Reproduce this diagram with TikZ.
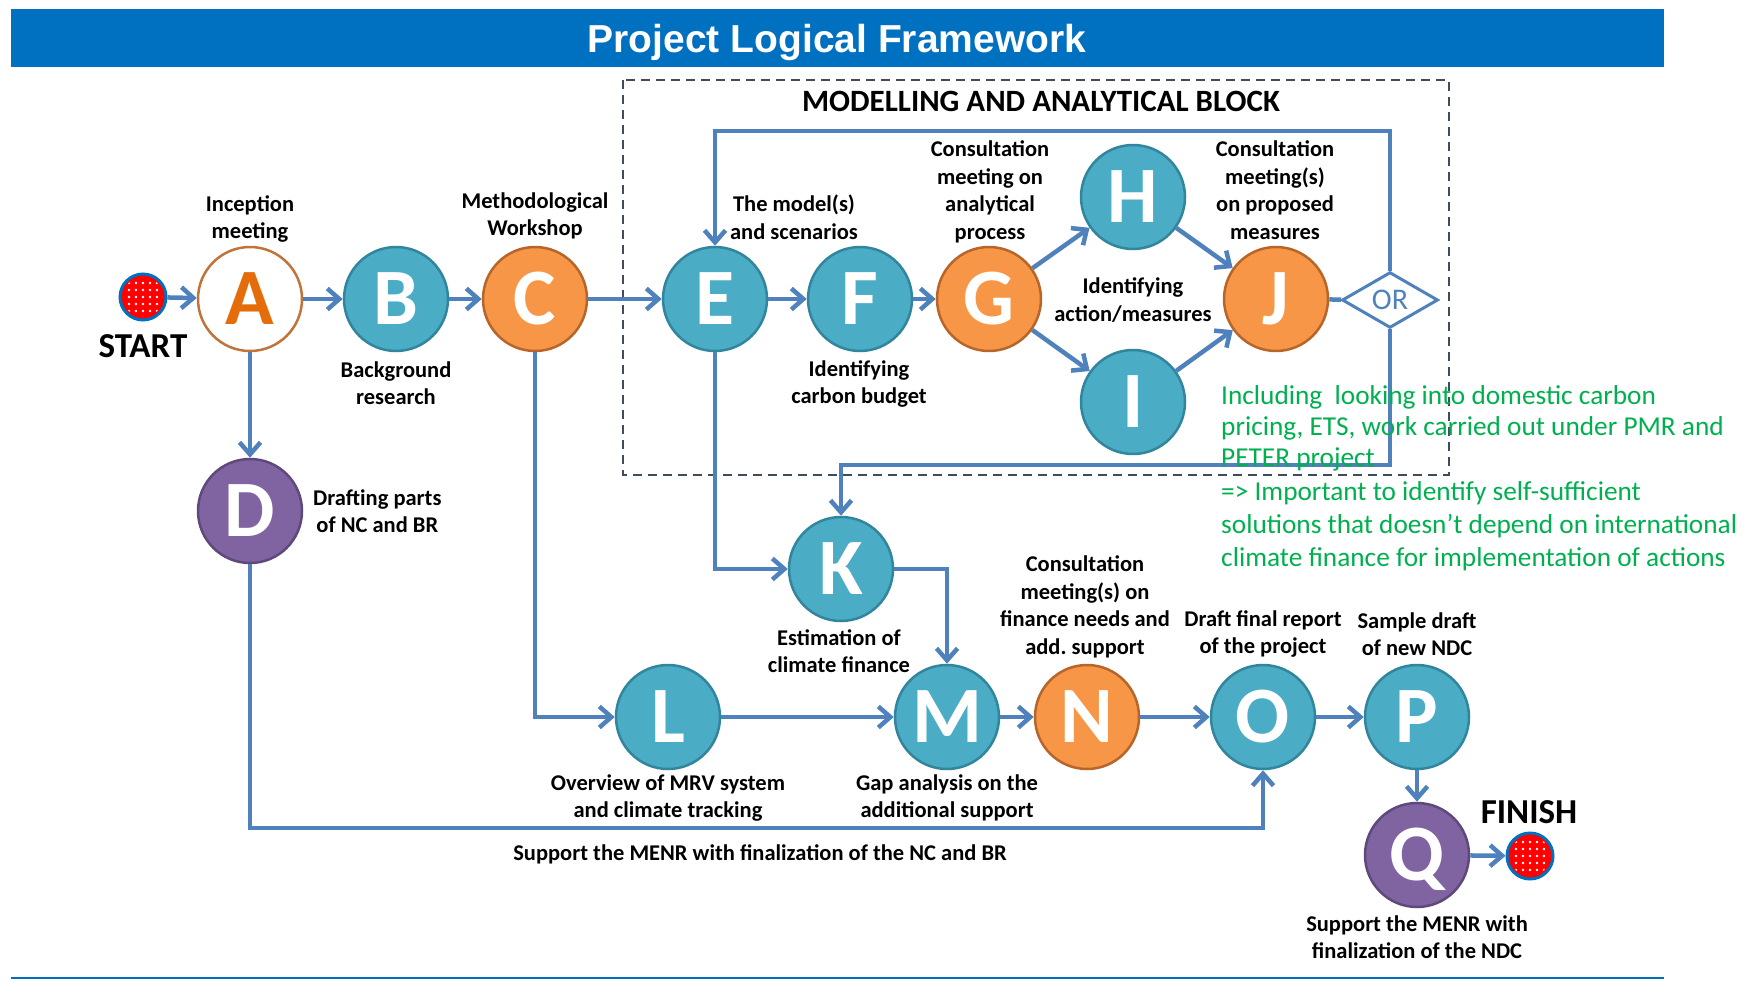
\documentclass[tikz,border=0pt]{standalone}
\usepackage{fontspec}
\setmainfont{Carlito}
\newfontfamily\titlefont{Liberation Sans}
\usetikzlibrary{arrows.meta,shapes.geometric}
\definecolor{barblue}{HTML}{0070C0}
\definecolor{tealfill}{HTML}{4BACC6}
\definecolor{tealedge}{HTML}{31859C}
\definecolor{orangefill}{HTML}{F79646}
\definecolor{orangeedge}{HTML}{B8652A}
\definecolor{purplefill}{HTML}{8064A2}
\definecolor{purpleedge}{HTML}{5F497A}
\definecolor{linkblue}{HTML}{4F81BD}
\definecolor{boxgray}{HTML}{3E4C5E}
\definecolor{notegreen}{HTML}{00B050}
\definecolor{aletter}{HTML}{E46C0A}
\definecolor{aedge}{HTML}{C0743A}
\definecolor{dotred}{HTML}{FF0000}
\tikzset{
  stage/.style={circle, minimum size=104pt, inner sep=0pt, line width=2.5pt,
    font=\fontsize{80}{80}\selectfont\bfseries, text=white, text height=50pt, text depth=0pt},
  tealstage/.style={stage, fill=tealfill, draw=tealedge},
  orangestage/.style={stage, fill=orangefill, draw=orangeedge},
  purplestage/.style={stage, fill=purplefill, draw=purpleedge},
  lbl/.style={font=\fontsize{22.5}{27.5}\selectfont\bfseries, align=center, inner sep=0pt},
  flow/.style={draw=linkblue, line width=4.5pt, -{Straight Barb[length=12pt,width=21pt]}},
  link/.style={draw=linkblue, line width=4.5pt},
  enddot/.style={circle, minimum size=46pt, inner sep=0pt, fill=dotred, draw=barblue, line width=3pt},
  bigword/.style={font=\fontsize{35}{35}\selectfont\bfseries, inner sep=0pt},
  note/.style={font=\fontsize{27.3}{31}\selectfont, text=notegreen, align=left, inner sep=0pt, anchor=north west},
}
\begin{document}
\frenchspacing
\begin{tikzpicture}[x=1pt,y=-1pt]
\useasboundingbox (0,0) rectangle (1751,980);
% title bar
\node[fill=barblue, minimum width=1653pt, minimum height=58pt, inner sep=0pt, anchor=north west] (bar) at (11,9) {};
\node[font=\titlefont\fontsize{39}{39}\selectfont\bfseries, text=white, inner sep=0pt] (title) at (837,43) {Project Logical Framework};
\coordinate (bl) at (11,978);
\coordinate (br) at (1664,978);
\draw[barblue, line width=2pt] (bl) -- (br);

% dashed block
\coordinate (boxA) at (623,80);
\coordinate (boxB) at (1449,475);
\draw[boxgray, line width=2pt, dash pattern=on 9pt off 6pt] (boxA) rectangle (boxB);
\node[font=\fontsize{31}{31}\selectfont\bfseries, inner sep=0pt] (blocktitle) at (1041,101) {MODELLING AND ANALYTICAL BLOCK};

% start / finish
\node[enddot] (start) at (143,297) {};
\node[enddot] (finish) at (1530,856) {};
\foreach \d in {start,finish}{
  \begin{scope}
    \clip (\d.center) circle[radius=20];
    \foreach \i in {-3,...,3}
      \foreach \j in {-3,...,3}
        \fill[white, shift={(\d.center)}] (\i*7,\j*7) circle[radius=1.3];
  \end{scope}
}
\node[bigword] (starttxt) at (143,346) {START};
\node[bigword] (finishtxt) at (1529,812) {FINISH};

% stages
\node[stage, fill=white, draw=aedge, text=aletter] (A) at (250,299) {A};
\node[tealstage] (B) at (396,299) {B};
\node[orangestage] (C) at (535,299) {C};
\node[purplestage] (D) at (250,511) {D};
\node[tealstage] (E) at (715,299) {E};
\node[tealstage] (F) at (860,299) {F};
\node[orangestage] (G) at (989,299) {G};
\node[tealstage] (H) at (1133,197) {H};
\node[tealstage] (I) at (1133,402) {I};
\node[orangestage] (J) at (1276,299) {J};
\node[tealstage] (K) at (841,569) {K};
\node[tealstage] (L) at (668,717) {L};
\node[tealstage] (M) at (947,717) {M};
\node[orangestage] (N) at (1087,717) {N};
\node[tealstage] (O) at (1263,717) {O};
\node[tealstage] (P) at (1417,717) {P};
\node[purplestage] (Q) at (1417,855) {Q};
\node[diamond, draw=linkblue, fill=white, line width=3pt, minimum width=96pt, minimum height=44pt,
      inner sep=0pt, font=\fontsize{30}{30}\selectfont, text=linkblue] (OR) at (1390,300) {OR};

% labels
\node[lbl] (tA) at (250,219) {Inception\\meeting};
\node[lbl] (tB) at (396,383) {Background\\research};
\node[lbl] (tC) at (535,216) {Methodological\\Workshop};
\node[lbl, anchor=west] (tD) at (313,511) {Drafting parts\\of NC and BR};
\node[lbl] (tE) at (794,217) {The model(s)\\and scenarios};
\node[lbl] (tF) at (859,384) {Identifying\\carbon budget};
\node[lbl] (tG) at (990,192) {Consultation\\meeting on\\analytical\\process};
\node[lbl] (tHI) at (1133,300) {Identifying\\action/measures};
\node[lbl] (tJ) at (1275,190) {Consultation\\meeting(s)\\on proposed\\measures};
\node[lbl] (tK) at (839,651) {Estimation of\\climate finance};
\node[lbl] (tN) at (1085,607) {Consultation\\meeting(s) on\\finance needs and\\add.\ support};
\node[lbl] (tO) at (1263,634) {Draft final report\\of the project};
\node[lbl] (tP) at (1417,634) {Sample draft\\of new NDC};
\node[lbl] (tL) at (668,798) {Overview of MRV system\\and climate tracking};
\node[lbl] (tM) at (947,798) {Gap analysis on the\\additional support};
\node[lbl] (tDO) at (760,854) {Support the MENR with finalization of the NC and BR};
\node[lbl] (tQ) at (1417,937) {Support the MENR with\\finalization of the NDC};

% connectors
\coordinate (looptop) at (0,131);
\coordinate (loopbot) at (0,465);
\coordinate (dbot) at (0,828);
\draw[flow] (start) -- (A);
\draw[flow] (A) -- (B);
\draw[flow] (B) -- (C);
\draw[flow] (C) -- (E);
\draw[flow] (E) -- (F);
\draw[flow] (F) -- (G);
\draw[flow] (G) -- (H);
\draw[flow] (G) -- (I);
\draw[flow] (H) -- (J);
\draw[flow] (I) -- (J);
\draw[link] (J) -- (OR);
\draw[flow] (OR.north) -- (OR.north |- looptop) -- (E.north |- looptop) -- (E.north);
\draw[flow] (OR.south) -- (OR.south |- loopbot) -- (K.north |- loopbot) -- (K.north);
\draw[flow] (E.south) |- (K.west);
\draw[flow] (K.east) -| (M.north);
\draw[flow] (C.south) |- (L.west);
\draw[flow] (A) -- (D);
\draw[flow] (D.south) -- (D.south |- dbot) -- (O.south |- dbot) -- (O.south);
\draw[flow] (L) -- (M);
\draw[flow] (M) -- (N);
\draw[flow] (N) -- (O);
\draw[flow] (O) -- (P);
\draw[flow] (P) -- (Q);
\draw[flow] (Q) -- (finish);

% green note
\node[note] (note1) at (1221,385) {Including~ looking into domestic carbon\\pricing, ETS, work carried out under PMR and\\PETER project};
\node[note, font=\fontsize{27.3}{33}\selectfont] (note2) at (1221,481) {=> Important to identify self-sufficient\\solutions that doesn’t depend on international\\climate finance for implementation of actions};
\end{tikzpicture}
\end{document}
